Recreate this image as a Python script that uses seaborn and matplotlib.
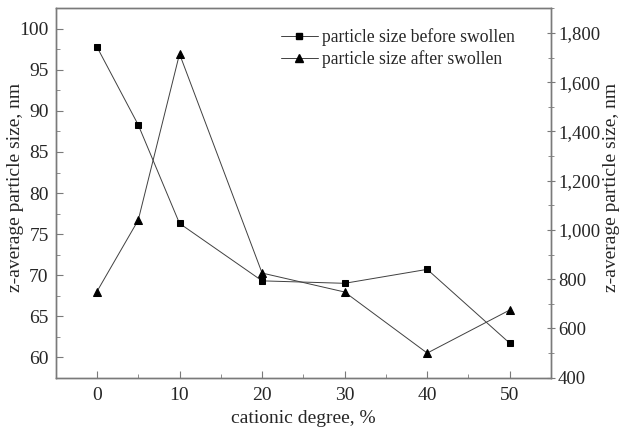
import pandas as pd
import matplotlib.pyplot as plt
import seaborn as sns
from matplotlib.ticker import MultipleLocator, FuncFormatter
from matplotlib.lines import Line2D

sns.set_style("ticks")
plt.rcParams['font.family'] = ['Liberation Serif', 'DejaVu Serif']

# data
cationic_degree = [0, 5, 10, 20, 30, 40, 50]
size_before = [97.8, 88.3, 76.3, 69.3, 69.0, 70.7, 61.7]
size_after = [750, 1040, 1715, 825, 748, 500, 675]

df = pd.DataFrame({'degree': cationic_degree,
                   'before': size_before,
                   'after': size_after})

line_col = '#404040'
spine_col = '#7a7a7a'

fig = plt.figure(figsize=(6.2, 4.28), dpi=100)
ax = fig.add_axes([0.0898, 0.1175, 0.799, 0.863])
ax2 = ax.twinx()

sns.lineplot(data=df, x='degree', y='before', ax=ax, color=line_col,
             marker='s', markersize=4.8, linewidth=0.7,
             markerfacecolor='black', markeredgecolor='black')
sns.lineplot(data=df, x='degree', y='after', ax=ax2, color=line_col,
             marker='^', markersize=6, linewidth=0.7,
             markerfacecolor='black', markeredgecolor='black')

ax.set_xlim(-5, 55)
ax.set_ylim(57.5, 102.5)
ax2.set_ylim(400, 1900)

ax.xaxis.set_major_locator(MultipleLocator(10))
ax.xaxis.set_minor_locator(MultipleLocator(5))
ax.yaxis.set_major_locator(MultipleLocator(5))
ax.yaxis.set_minor_locator(MultipleLocator(2.5))
ax2.yaxis.set_major_locator(MultipleLocator(200))
ax2.yaxis.set_minor_locator(MultipleLocator(100))
ax2.yaxis.set_major_formatter(FuncFormatter(lambda v, p: f'{int(v):,}'))

for a in (ax, ax2):
    for s in a.spines.values():
        s.set_color(spine_col)
        s.set_linewidth(1.0)

ax.tick_params(axis='both', which='both', direction='in', color=spine_col,
               labelsize=14, top=False, pad=5)
ax.tick_params(which='major', length=5)
ax.tick_params(which='minor', length=3)
ax.tick_params(axis='x', which='major', pad=7)
ax2.tick_params(axis='y', which='both', direction='inout', color=spine_col,
                labelsize=13.5, pad=2)
ax2.tick_params(which='major', length=6)
ax2.tick_params(which='minor', length=4)

ax.set_xlabel('cationic degree, %', fontsize=14, labelpad=4)
ax.set_ylabel('z-average particle size, nm', fontsize=14)
ax2.set_ylabel('z-average particle size, nm', fontsize=14)
ax.yaxis.set_label_coords(-0.064, 0.515)
ax2.yaxis.set_label_coords(1.104, 0.515)

handles = [
    Line2D([], [], color=line_col, linewidth=0.7, marker='s', markersize=4.8,
           markerfacecolor='black', markeredgecolor='black'),
    Line2D([], [], color=line_col, linewidth=0.7, marker='^', markersize=6,
           markerfacecolor='black', markeredgecolor='black'),
]
ax2.legend(handles, ['particle size before swollen', 'particle size after swollen'],
           loc='upper right', bbox_to_anchor=(0.958, 0.99), frameon=False,
           fontsize=12.7, handlelength=2.1, handletextpad=0.2, labelspacing=0.25)
if ax.get_legend():
    ax.get_legend().remove()

fig.savefig('out.png', dpi=100)
